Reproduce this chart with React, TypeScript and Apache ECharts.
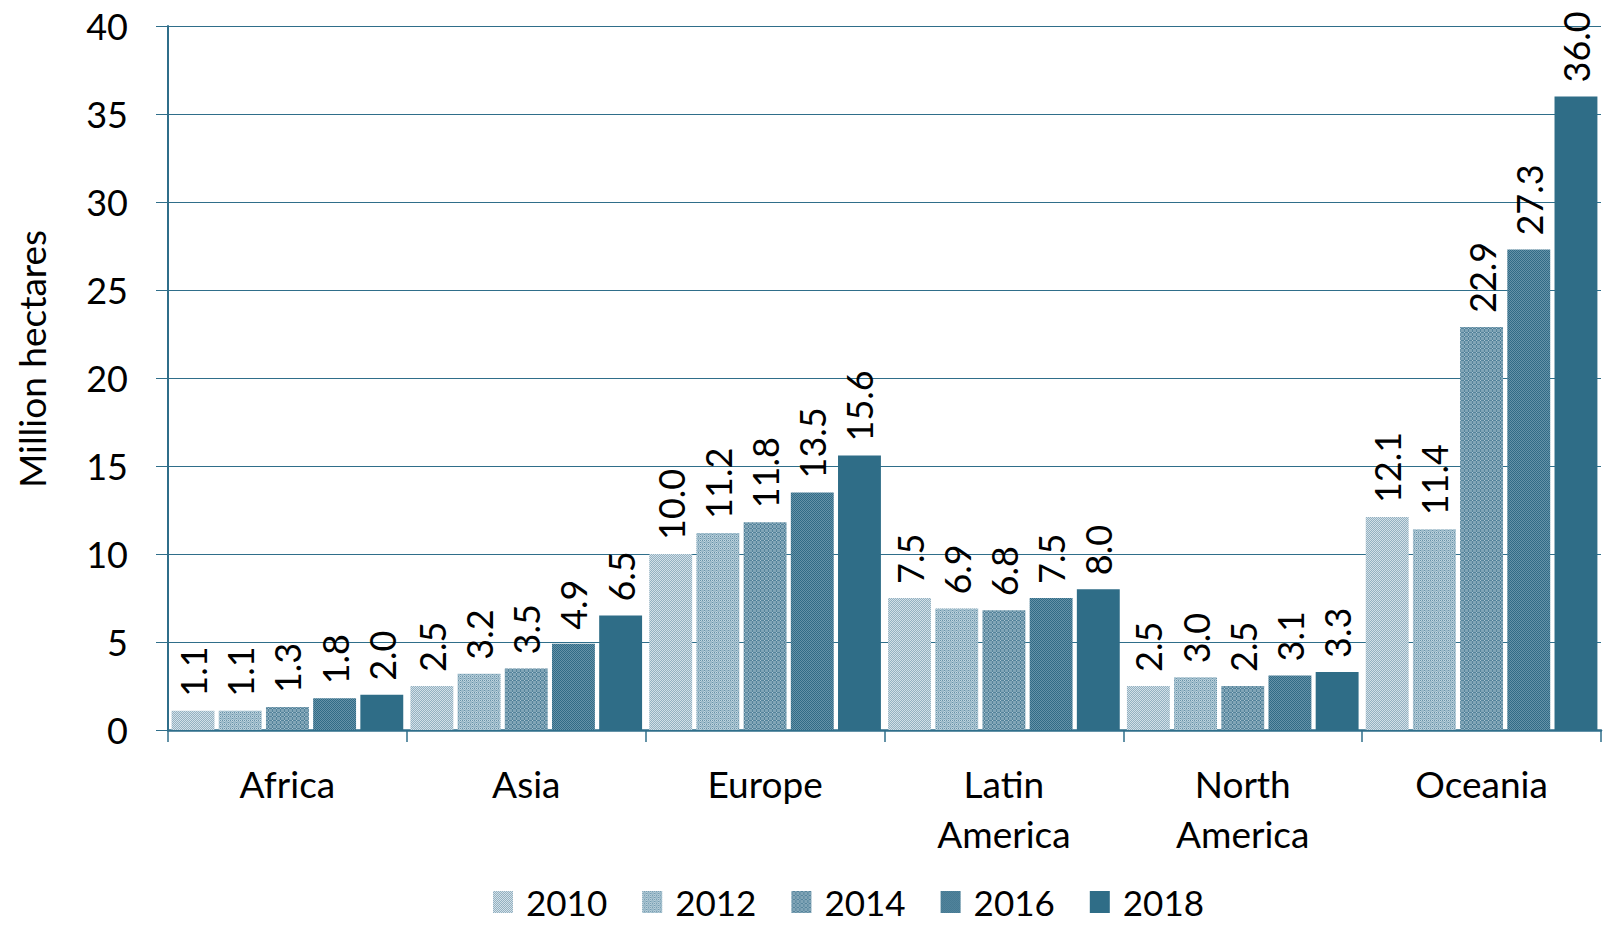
import React, { useEffect, useRef } from "react";
import * as echarts from "echarts";

const categories = ["Africa", "Asia", "Europe", "Latin\nAmerica", "North\nAmerica", "Oceania"];
const years = ["2010", "2012", "2014", "2016", "2018"];
const v2010 = [1.1, 2.5, 10.0, 7.5, 2.5, 12.1];
const v2012 = [1.1, 3.2, 11.2, 6.9, 3.0, 11.4];
const v2014 = [1.3, 3.5, 11.8, 6.8, 2.5, 22.9];
const v2016 = [1.8, 4.9, 13.5, 7.5, 3.1, 27.3];
const v2018 = [2.0, 6.5, 15.6, 8.0, 3.3, 36.0];
const seriesValues = [v2010, v2012, v2014, v2016, v2018];
const yTicks = { min: 0, max: 40, interval: 5 };
const yAxisTitle = "Million hectares";

const FONT = "Lato";
const AXIS_COLOR = "#2F6E8A";

function makePattern(kind: number): any {
  const size = 4;
  const c = document.createElement("canvas");
  c.width = size;
  c.height = size;
  const ctx = c.getContext("2d")!;
  const px = (x: number, y: number, col: string) => {
    ctx.fillStyle = col;
    ctx.fillRect(x, y, 1, 1);
  };
  for (let y = 0; y < size; y++) {
    for (let x = 0; x < size; x++) {
      let col = "#000";
      if (kind === 0) {
        col = (x + y) % 2 === 0 ? "#D3E0E8" : "#93B1C1";
      } else if (kind === 1) {
        col = "#9DBBCA";
        if (x === 0 || y === 0) col = (x + y) % 2 === 0 ? "#6993A9" : "#C0D4DE";
      } else if (kind === 2) {
        col = "#80A4B6";
        if (x === 0 || y === 0) col = "#55849C";
        if (x === 0 && y === 0) col = "#AFC7D3";
      } else {
        col = (x + y) % 2 === 0 ? "#326C87" : "#6592A8";
        if (x % 2 === 1 && y % 2 === 1) col = "#316A85";
      }
      px(x, y, col);
    }
  }
  return { image: c, repeat: "repeat" };
}

export default function App() {
  const ref = useRef<HTMLDivElement>(null);
  useEffect(() => {
    if (!ref.current) return;
    const chart = echarts.init(ref.current, undefined, { renderer: "svg" });
    const colors: any[] = [makePattern(0), makePattern(1), makePattern(2), makePattern(3), "#2F6D87"];
    const series = years.map((yr, i) => ({
      name: yr,
      type: "bar",
      data: seriesValues[i],
      barGap: "10%",
      barCategoryGap: "3%",
      itemStyle: { color: colors[i] },
      label: {
        show: true,
        position: "top",
        rotate: 90,
        align: "left",
        verticalAlign: "middle",
        distance: 14,
        fontFamily: FONT,
        fontSize: 36,
        color: "#000",
        formatter: (p: any) => Number(p.value).toFixed(1),
      },
    }));
    chart.setOption({
      animation: false,
      backgroundColor: "#fff",
      grid: { left: 168, right: 3, top: 26, bottom: 196, containLabel: false },
      graphic: [
        {
          type: "text",
          x: 31,
          y: 359,
          rotation: Math.PI / 2,
          style: {
            text: yAxisTitle,
            fontFamily: FONT,
            fontSize: 37,
            fill: "#000",
            align: "center",
            verticalAlign: "middle",
          },
        },
      ],
      legend: {
        data: years,
        icon: "rect",
        left: 488,
        top: 878,
        itemWidth: 20,
        itemHeight: 22,
        itemGap: 35,
        textStyle: { fontFamily: FONT, fontSize: 35, lineHeight: 38, color: "#000", padding: [0, 0, 0, 8] },
      },
      xAxis: {
        type: "category",
        data: categories,
        axisLine: { show: true, lineStyle: { color: AXIS_COLOR, width: 2.5 } },
        axisTick: { show: true, length: 12, lineStyle: { color: AXIS_COLOR, width: 1.5 } },
        axisLabel: {
          fontFamily: FONT,
          fontSize: 37,
          color: "#000",
          lineHeight: 50,
          margin: 28,
          interval: 0,
        },
      },
      yAxis: {
        type: "value",
        min: yTicks.min,
        max: yTicks.max,
        interval: yTicks.interval,
        axisLine: { show: true, lineStyle: { color: AXIS_COLOR, width: 2 } },
        axisTick: { show: true, length: 12, lineStyle: { color: AXIS_COLOR, width: 1 } },
        axisLabel: { fontFamily: FONT, fontSize: 36, color: "#000", margin: 40 },
        splitLine: { show: true, lineStyle: { color: AXIS_COLOR, width: 1 } },
      },
      series,
    });
    return () => chart.dispose();
  }, []);
  return <div ref={ref} style={{ width: 1604, height: 926, position: "absolute", left: 0, top: 0 }} />;
}
